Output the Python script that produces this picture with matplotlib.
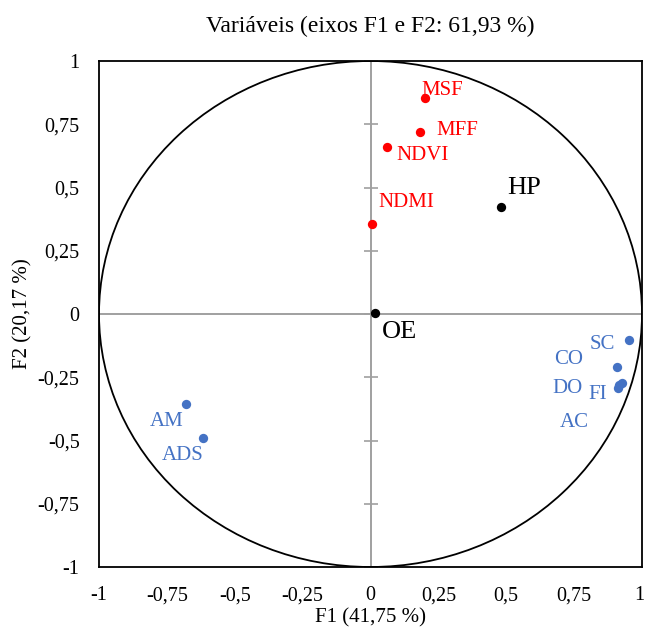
import matplotlib
matplotlib.use("Agg")
import matplotlib.pyplot as plt
from matplotlib.patches import Ellipse
from matplotlib.transforms import ScaledTranslation
import numpy as np

plt.rcParams['font.family'] = ['Liberation Serif', 'DejaVu Serif']

# Data (variable coordinates on F1/F2)
red_names = ["MSF", "MFF", "NDVI", "NDMI"]
red_f1 = [0.201, 0.183, 0.060, 0.006]
red_f2 = [0.853, 0.721, 0.661, 0.354]

black_names = ["HP", "OE"]
black_f1 = [0.480, 0.018]
black_f2 = [0.423, 0.004]

blue_names = ["SC", "CO", "DO", "FI", "AC", "AM", "ADS"]
blue_f1 = [0.952, 0.907, 0.917, 0.928, 0.910, -0.678, -0.617]
blue_f2 = [-0.102, -0.209, -0.282, -0.272, -0.294, -0.354, -0.492]

ticks = [-1, -0.75, -0.5, -0.25, 0, 0.25, 0.5, 0.75, 1]
tick_labels = ["-1", "-0,75", "-0,5", "-0,25", "0", "0,25", "0,5", "0,75", "1"]

# label offsets in pixels (dx, dy up), text centered horizontally, baseline
offsets = {
    "MSF": (16.8, 3), "MFF": (36.8, -3.7), "NDVI": (36.2, -13.7), "NDMI": (34.3, 17.7),
    "HP": (22.8, 13.3), "OE": (24, -25),
    "SC": (-27, -9.3), "CO": (-47.7, 2.6), "DO": (-52, -8), "FI": (-24.5, -16.5),
    "AC": (-43.5, -39), "AM": (-20.2, -22.7), "ADS": (-20.3, -21.7),
}

RED = "#FF0000"
BLUE = "#4472C4"
GRAY = "#A0A0A0"

fig = plt.figure(figsize=(6.45, 6.35), dpi=100)
ax = fig.add_axes([99/645, 1 - 567/635, (642 - 99)/645, (567 - 61)/635])
ax.set_xlim(-1, 1)
ax.set_ylim(-1, 1)

# center axes
ax.axhline(0, color=GRAY, lw=1.4, zorder=1)
ax.axvline(0, color=GRAY, lw=1.4, zorder=1)
ax.plot(np.zeros(len(ticks)), ticks, linestyle='none', marker='_', markersize=10,
        markeredgewidth=1.2, color=GRAY, zorder=1, clip_on=False)

# circle
ax.add_patch(Ellipse((0, 0), 2, 2, fill=False, edgecolor='black', lw=1.3, zorder=2))

ms = 45
ax.scatter(red_f1, red_f2, s=ms, color=RED, zorder=3, linewidths=0)
ax.scatter(black_f1, black_f2, s=ms, color='black', zorder=3, linewidths=0)
ax.scatter(blue_f1, blue_f2, s=ms, color=BLUE, zorder=3, linewidths=0)

def label(names, xs, ys, color, size):
    for n, x, y in zip(names, xs, ys):
        dx, dy = offsets[n]
        ax.annotate(n, (x, y), xytext=(dx, dy), textcoords='offset pixels',
                    ha='center', va='baseline', color=color, fontsize=size, zorder=4)

label(red_names, red_f1, red_f2, RED, 15)
label(black_names, black_f1, black_f2, 'black', 19)
label(blue_names, blue_f1, blue_f2, BLUE, 15)

ax.set_xticks(ticks)
ax.set_xticklabels(tick_labels)
ax.set_yticks(ticks)
ax.set_yticklabels(tick_labels)
ax.tick_params(length=0, labelsize=14.5, pad=14)
# last x tick label nudged left so it stays in the picture
lbl = ax.get_xticklabels()[-1]
lbl.set_transform(lbl.get_transform() + ScaledTranslation(-3/100, 0, fig.dpi_scale_trans))
for s in ax.spines.values():
    s.set_linewidth(1.3)

ax.set_title("Variáveis (eixos F1 e F2: 61,93 %)", fontsize=17, pad=21)
ax.set_xlabel("F1 (41,75 %)", fontsize=15, labelpad=2)
ax.set_ylabel("F2 (20,17 %)", fontsize=15, labelpad=4)

fig.savefig("out.png", dpi=100)
